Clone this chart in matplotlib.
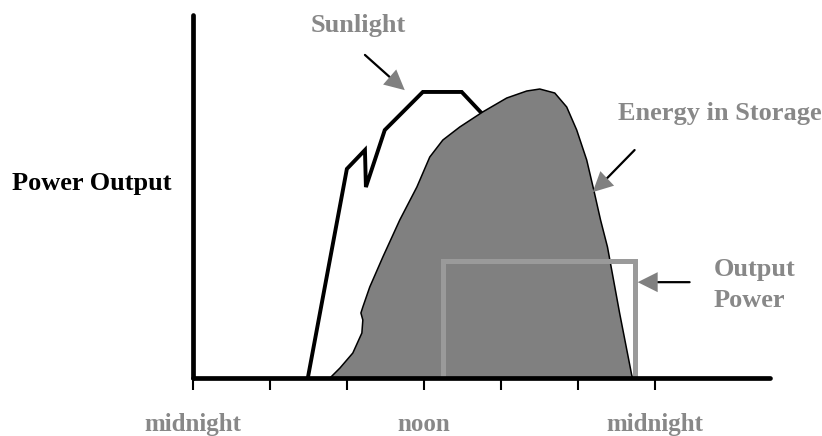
import matplotlib
matplotlib.use("Agg")
import matplotlib.pyplot as plt

# ---- data (hours since midnight, power in % of axis height) ----
sun_hours = [5.97, 8.0, 8.94, 8.99, 9.97, 11.95, 13.97, 15.0, 15.7]
sun_power = [0, 57.6, 62.8, 52.6, 68.3, 78.8, 78.8, 73.0, 69.0]

store_hours = [7.12, 7.64, 8.31, 8.78, 8.83, 8.73, 8.83, 9.19, 9.87, 10.75, 11.64,
               12.31, 12.99, 13.87, 15.06, 16.31, 17.35, 18.03, 18.81, 19.43, 19.95,
               20.47, 20.85, 21.19, 21.55, 22.18, 22.81, 22.86]
store_power = [0, 2.75, 6.89, 12.40, 15.98, 17.91, 19.56, 25.07, 33.33, 43.53, 52.62,
               60.88, 65.56, 69.15, 73.28, 77.13, 79.06, 79.61, 78.51, 74.66, 68.32,
               60.06, 51.5, 43.53, 36.09, 17.91, 0.83, 0]

out_hours = [13, 13, 23, 23]
out_power = [0, 32.2, 32.2, 0]

tick_hours = [0, 4, 8, 12, 16, 20, 24]
tick_labels = ["midnight", "", "", "noon", "", "", "midnight"]

GRAY_TXT = "#888888"
GRAY_FILL = "#808080"
GRAY_OUT = "#9a9a9a"
FONT = "Liberation Serif"
FS = 19

fig = plt.figure(figsize=(8.22, 4.36), dpi=100)
ax = fig.add_axes([193/822, (436-378)/436, (770-193)/822, (378-15)/436])
ax.set_xlim(0, 30)
ax.set_ylim(0, 100)

for s in ["top", "right"]:
    ax.spines[s].set_visible(False)
for s in ["left", "bottom"]:
    ax.spines[s].set_linewidth(3.4)
    ax.spines[s].set_capstyle("round")
    ax.spines[s].set_zorder(5)

ax.set_xticks(tick_hours)
ax.set_xticklabels(tick_labels, family=FONT, weight="bold", size=FS - 1, color=GRAY_TXT)
ax.tick_params(axis="x", direction="out", length=8.5, width=1.5, pad=17)
ax.set_yticks([])

# sunlight
ax.plot(sun_hours, sun_power, color="black", lw=2.8, solid_joinstyle="miter", zorder=2)
# energy in storage
ax.fill(store_hours, store_power, facecolor=GRAY_FILL, edgecolor="black", lw=1.1,
        joinstyle="round", zorder=3)
# output power
ax.plot(out_hours, out_power, color=GRAY_OUT, lw=3.6, solid_joinstyle="miter", zorder=4)

def pointer(start, base, tip):
    ax.annotate("", xy=base, xytext=start,
                arrowprops=dict(arrowstyle="-", color="black", lw=1.6, shrinkA=0, shrinkB=0),
                annotation_clip=False, zorder=6)
    ax.annotate("", xy=tip, xytext=base,
                arrowprops=dict(arrowstyle="-|>,head_length=0.4,head_width=0.2",
                                mutation_scale=36, color=GRAY_FILL, lw=0,
                                shrinkA=0, shrinkB=0),
                annotation_clip=False, zorder=6)

pointer((8.94, 89.0), (10.23, 82.9), (11.01, 79.3))
pointer((22.96, 62.8), (21.3, 53.8), (20.78, 51.2))
pointer((25.82, 26.4), (24.16, 26.4), (23.12, 26.4))

ax.text(8.57, 97.2, "Sunlight", family=FONT, weight="bold", size=FS, color=GRAY_TXT,
        ha="center", va="center")
ax.text(22.08, 72.9, "Energy in Storage", family=FONT, weight="bold", size=FS,
        color=GRAY_TXT, ha="left", va="center")
ax.text(27.06, 25.6, "Output\nPower", family=FONT, weight="bold", size=FS,
        color=GRAY_TXT, ha="left", va="center", linespacing=1.45)
ax.text(-5.25, 53.7, "Power Output", family=FONT, weight="bold", size=FS,
        color="black", ha="center", va="center")

fig.savefig("out.png", dpi=100)
